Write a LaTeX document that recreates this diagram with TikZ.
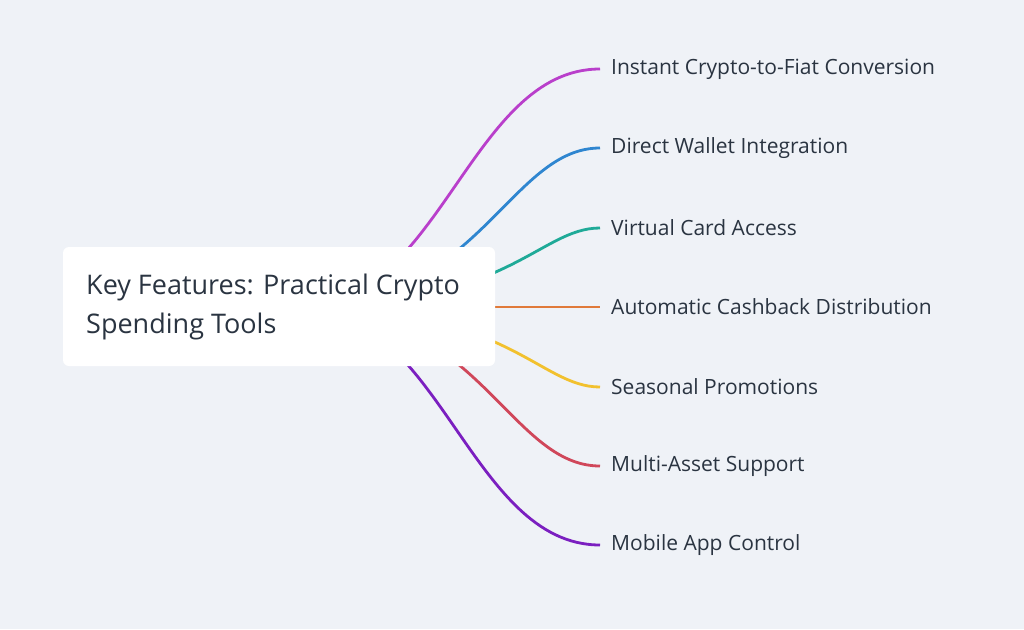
\documentclass[tikz,border=0pt]{standalone}
\usepackage{fontspec}
\setmainfont{Open Sans}
\definecolor{bgc}{HTML}{EFF2F7}
\definecolor{txt}{HTML}{2A3441}
\definecolor{cmag}{HTML}{B93FCB}
\definecolor{cblu}{HTML}{2F86D0}
\definecolor{ctea}{HTML}{1FAA98}
\definecolor{cora}{HTML}{E07A3A}
\definecolor{cyel}{HTML}{F2C12E}
\definecolor{cred}{HTML}{D0475A}
\definecolor{cpur}{HTML}{7B1FC0}
\tikzset{
  branch/.style={line width=2.8pt},
  leaf/.style={anchor=west, inner sep=0pt, text=txt, font=\fontsize{21}{24}\selectfont},
  root/.style={fill=white, rounded corners=6pt, minimum width=432pt, minimum height=119pt,
    inner sep=0pt, text=txt}
}
\begin{document}
\begin{tikzpicture}[x=1pt,y=-1pt]
\fill[bgc] (0,0) rectangle (1024,629);
\useasboundingbox (0,0) rectangle (1024,629);
\coordinate (hub) at (300,307);
% branches: y, control x, colour, name, label
\foreach \y/\c/\col/\n/\t in {
  69/440/cmag/a/Instant Crypto-to-Fiat Conversion,
  148/479/cblu/b/Direct Wallet Integration,
  228/509/ctea/c/Virtual Card Access,
  307/509/cora/d/Automatic Cashback Distribution,
  387/509/cyel/e/Seasonal Promotions,
  466/479/cred/f/Multi-Asset Support,
  545/440/cpur/g/Mobile App Control}{
  \coordinate (end\n) at (600,\y);
  \node[leaf] (leaf\n) at (611,\y) {\t};
  \draw[branch, \col] (hub) .. controls (\c,307) and (\c+30,\y) .. (end\n);
}
\node[root] (main) at (279,306.5) {};
\node[anchor=west, text=txt, align=left, inner sep=0pt,
  font=\fontsize{27}{39}\selectfont] (title) at (86,307)
  {Key Features: Practical Crypto\\Spending Tools};
\end{tikzpicture}
\end{document}
